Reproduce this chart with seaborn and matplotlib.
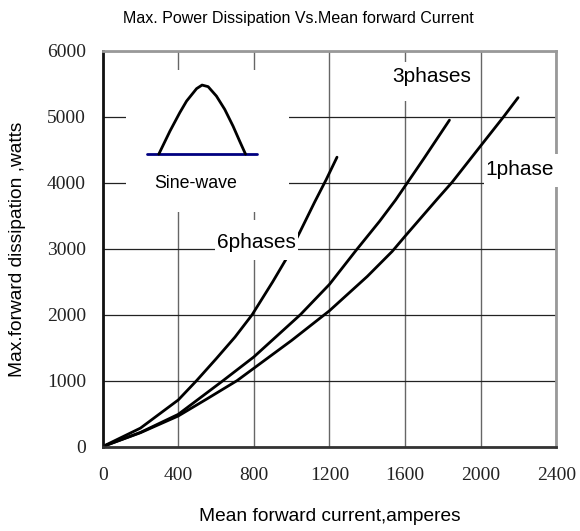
import matplotlib
matplotlib.use('Agg')
import matplotlib.pyplot as plt
from matplotlib.patches import Rectangle
import numpy as np
import pandas as pd
import seaborn as sns

# curve values (amperes, watts)
I_1PH = [0, 200, 400, 550, 711, 800, 1000, 1200, 1400, 1532, 1600, 1768, 1849, 2000, 2121, 2198]
P_1PH = [0, 210, 464, 720, 1000, 1188, 1610, 2060, 2580, 2960, 3190, 3746, 4009, 4560, 5000, 5292]
I_3PH = [0, 200, 400, 637, 800, 1046, 1200, 1342, 1465, 1550, 1606, 1700, 1835]
P_3PH = [0, 215, 489, 1000, 1360, 2000, 2460, 2980, 3416, 3740, 3975, 4370, 4951]
I_6PH = [0, 200, 400, 497, 600, 700, 791, 900, 968, 1043, 1122, 1183, 1240]
P_6PH = [0, 280, 707, 1000, 1330, 1660, 2000, 2500, 2830, 3250, 3710, 4050, 4389]

# inset sketch of the sine-wave hump (drawn in data units)
SINE_X = [297, 356, 408, 444, 497, 526, 558, 602, 646, 690, 725, 756]
SINE_Y = [4435, 4784, 5064, 5240, 5429, 5483, 5459, 5316, 5114, 4860, 4632, 4435]
BASE_X = [235, 817]
BASE_Y = [4435, 4435]

XTICKS = [0, 400, 800, 1200, 1600, 2000, 2400]
YTICKS = [0, 1000, 2000, 3000, 4000, 5000, 6000]

# label text, anchor, white box behind it (x0, y0, w, h)
LABELS = [
    ('6phases', 813, 3088, (594, 2834, 440, 608)),
    ('3phases', 1743, 5611, (1530, 5235, 440, 600)),
    ('1phase', 2208, 4202, (2020, 3944, 390, 486)),
]
INSET_BOX = (121, 3564, 863, 2143)

SANS = ['Liberation Sans', 'DejaVu Sans']
SERIF = ['Liberation Serif', 'DejaVu Serif']
INK = 'black'

df = pd.concat([
    pd.DataFrame({'I': I_1PH, 'P': P_1PH, 'phase': '1phase'}),
    pd.DataFrame({'I': I_3PH, 'P': P_3PH, 'phase': '3phases'}),
    pd.DataFrame({'I': I_6PH, 'P': P_6PH, 'phase': '6phases'}),
], ignore_index=True)

sns.set_theme(style='white')
plt.rcParams['font.family'] = SANS

fig = plt.figure(figsize=(5.8, 5.31), dpi=100)
fig.patch.set_facecolor('white')
ax = fig.add_axes([0.177, 0.159, 0.782, 0.745])

sns.lineplot(data=df, x='I', y='P', hue='phase', palette=['black'] * 3,
             sort=False, legend=False, linewidth=2.0, ax=ax, zorder=2)

ax.set_xlim(0, 2400)
ax.set_ylim(0, 6000)
ax.set_xticks(XTICKS)
ax.set_yticks(YTICKS)
ax.set_xticklabels([str(v) for v in XTICKS], family=SERIF, fontsize=14, color='#222')
ax.set_yticklabels([str(v) for v in YTICKS], family=SERIF, fontsize=14, color='#222')
ax.tick_params(axis='y', length=0, pad=12)
ax.tick_params(axis='x', length=0, pad=15)

ax.xaxis.grid(True, color='#666', linewidth=1.0)
ax.yaxis.grid(True, color='#222', linewidth=0.9)
ax.set_axisbelow(True)

ax.spines['left'].set_color('#111')
ax.spines['bottom'].set_color('#333')
ax.spines['top'].set_color('#999')
ax.spines['right'].set_color('#999')
for sp in ax.spines.values():
    sp.set_linewidth(2)

ax.set_xlabel('')
ax.set_ylabel('')

# white boxes that knock out the grid behind the labels / inset
x0, y0, w, h = INSET_BOX
ax.add_patch(Rectangle((x0, y0), w, h, facecolor='white', edgecolor='none', zorder=1.5))
ax.plot(BASE_X, BASE_Y, color='#000080', linewidth=2, zorder=3)
ax.plot(SINE_X, SINE_Y, color='black', linewidth=2, zorder=3)
ax.text(493, 3989, 'Sine-wave', ha='center', va='center', fontsize=12.8,
        color=INK, zorder=4)

for txt, tx, ty, (bx, by, bw, bh) in LABELS:
    ax.add_patch(Rectangle((bx, by), bw, bh, facecolor='white', edgecolor='none',
                           zorder=3, clip_on=False))
    ax.text(tx, ty, txt, ha='center', va='center', fontsize=15, color=INK, zorder=4)

fig.text(0.514, 0.966, 'Max. Power Dissipation Vs.Mean forward Current',
         ha='center', va='center', fontsize=11.5, color=INK)
fig.text(0.569, 0.028, 'Mean forward current,amperes', ha='center', va='center',
         fontsize=13.8, color=INK)
fig.text(0.031, 0.53, 'Max.forward dissipation ,watts', ha='center', va='center',
         rotation=90, fontsize=13.8, color=INK)

fig.savefig('out.png', dpi=100, facecolor='white')
